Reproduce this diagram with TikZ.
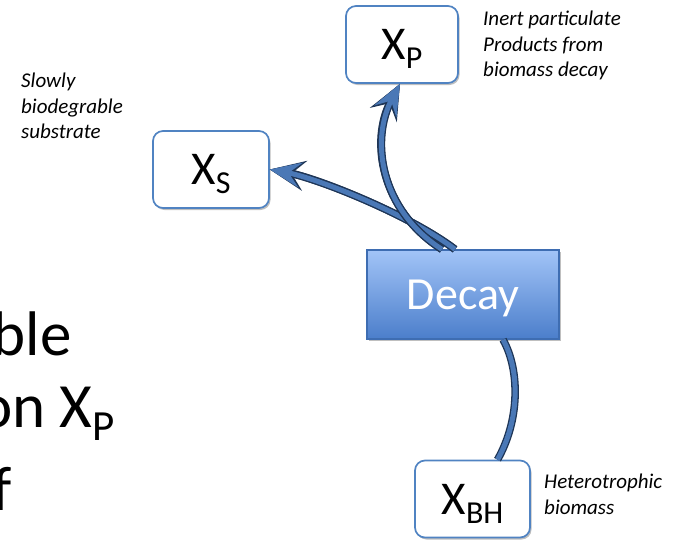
\documentclass[tikz,border=0pt]{standalone}
\usepackage{fontspec}
\setmainfont{Carlito}
\usetikzlibrary{arrows.meta,shadows}
\definecolor{boxline}{HTML}{5083C2}
\definecolor{flowfill}{HTML}{4A78B6}
\definecolor{flowdark}{HTML}{1E3556}
\definecolor{decaytop}{HTML}{A2C4F7}
\definecolor{decaybot}{HTML}{4B7ECB}
\definecolor{decayline}{HTML}{3E6DB2}
\newcommand{\bigX}[1]{{\fontsize{47}{47}\selectfont X\raisebox{-9pt}[0pt][0pt]{\fontsize{32}{32}\selectfont #1}}}
\tikzset{
  state/.style={draw=boxline,line width=1.7pt,fill=white,rounded corners=10pt,inner sep=0pt,
    drop shadow={shadow xshift=1.5pt,shadow yshift=-2pt,opacity=.25,fill=black}},
  note/.style={font=\fontsize{21}{25.5}\selectfont\itshape,align=left,anchor=north west,inner sep=0pt},
  flow/.style={draw=flowfill,line width=5pt,
    preaction={draw=flowdark,line width=7.6pt}},
  flowarrow/.style={flow,-{Stealth[length=31pt,width=25pt,inset=12pt]},
    preaction={draw=flowdark,line width=7.6pt,-{Stealth[length=35pt,width=30pt,inset=13pt]}}}
}
\begin{document}
\begin{tikzpicture}[x=1pt,y=-1pt]
\useasboundingbox(0,0)rectangle(677,541);\clip(0,0)rectangle(677,541);
\node[state,minimum width=112pt,minimum height=77pt](xp)at(402,44.5){\bigX{P}};
\node[state,minimum width=116pt,minimum height=77pt](xs)at(211,169.5){\bigX{S}};
\node[state,minimum width=115pt,minimum height=77pt](xbh)at(472.5,499){\bigX{BH}};
\node[draw=decayline,line width=1.3pt,top color=decaytop,bottom color=decaybot,minimum width=192pt,minimum height=89pt,
  text=white,text depth=0pt,font=\fontsize{46}{46}\selectfont,drop shadow={shadow xshift=1.5pt,shadow yshift=-2pt,opacity=.25,fill=black}](decay)at(463,294.5){Decay};
% decay products and the biomass that feeds it
\draw[flowarrow]([xshift=-8pt]decay.north)..controls(410,215)and(317,178)..(xs.east);
\draw[flowarrow]([xshift=-21pt]decay.north)..controls(380,210)and(370,140)..([xshift=-2pt]xp.south);
\draw[flow]([xshift=25pt]xbh.north)..controls(520,420)and(520,370)..([xshift=40pt]decay.south);
\node[note](noteS)at(21,73){Slowly\\biodegrable\\substrate};
\node[note](noteP)at(483,11){Inert particulate\\Products from\\biomass decay};
\node[note](noteBH)at(544,474){Heterotrophic\\biomass};
\node[anchor=base east,inner sep=0pt,font=\fontsize{63}{63}\selectfont](lineA)at(72,355){ble};
\node[anchor=base east,inner sep=0pt,font=\fontsize{63}{63}\selectfont](lineB)at(115,427){on X\raisebox{-13pt}{\fontsize{43}{43}\selectfont P}};
\node[anchor=base east,inner sep=0pt,font=\fontsize{63}{63}\selectfont](lineC)at(12,510){f};
\end{tikzpicture}
\end{document}
